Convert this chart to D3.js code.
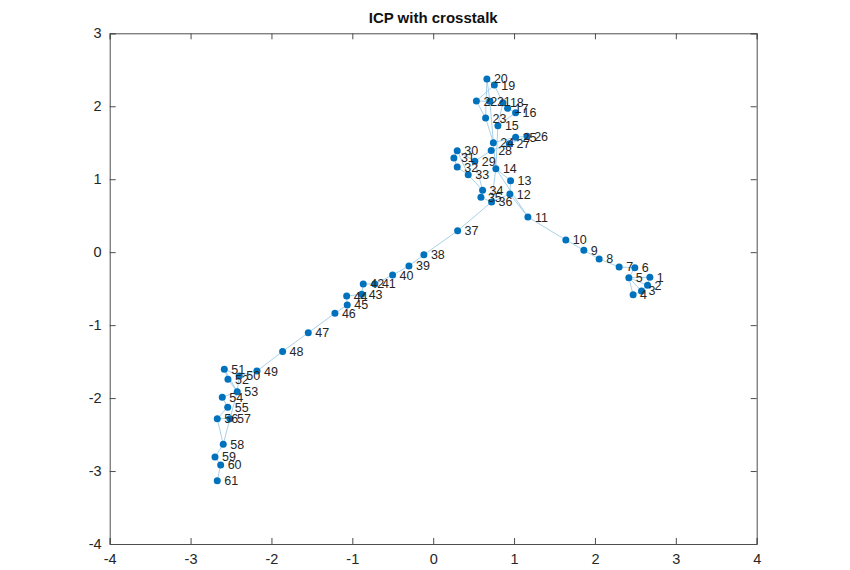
<!DOCTYPE html>
<html><head><meta charset="utf-8">
<script src="https://cdn.jsdelivr.net/npm/d3@7"></script>
<style>body{margin:0;background:#fff}svg{display:block}</style>
</head><body>
<svg id="c" width="850" height="570"></svg>
<script>
const labels = d3.range(1, 62);
const xs = [2.679,2.650,2.576,2.472,2.419,2.493,2.299,2.052,1.863,1.640,
 1.171,0.948,0.957,0.775,0.800,1.019,0.920,0.862,0.756,0.664,
 0.701,0.534,0.648,0.744,1.019,1.162,0.942,0.717,0.515,0.297,
 0.256,0.297,0.433,0.611,0.590,0.722,0.302,-0.115,-0.300,-0.502,
 -0.721,-0.865,-0.885,-1.070,-1.063,-1.215,-1.545,-1.862,-2.179,-2.398,
 -2.583,-2.538,-2.423,-2.608,-2.541,-2.670,-2.513,-2.596,-2.698,-2.628,-2.670];
const ys = [-0.344,-0.454,-0.532,-0.583,-0.350,-0.213,-0.203,-0.093,0.026,0.167,
 0.482,0.797,0.980,1.144,1.734,1.912,1.972,2.049,2.291,2.374,
 2.068,2.072,1.839,1.501,1.575,1.588,1.485,1.394,1.246,1.391,
 1.291,1.167,1.062,0.848,0.752,0.688,0.294,-0.035,-0.189,-0.313,
 -0.436,-0.436,-0.577,-0.601,-0.724,-0.838,-1.104,-1.361,-1.629,-1.697,
 -1.604,-1.742,-1.912,-1.989,-2.126,-2.282,-2.282,-2.633,-2.807,-2.917,-3.132];
// extra (crosstalk) edges, by point label
const extraEdges = [[5,1],[5,2],[5,3],[14,11],[14,36],[24,14],[20,23],[19,22],[21,24],[18,15],
 [30,33],[29,34],[12,36],[50,53],[53,57],[51,53],[56,58]];
const xTicks = [-4,-3,-2,-1,0,1,2,3,4];
const yTicks = [-4,-3,-2,-1,0,1,2,3];
const titleText = "ICP with crosstalk";

const svg = d3.select("#c");
const L = 109.7, R = 756.7, T = 33.3, B = 544;
const x = d3.scaleLinear().domain([-4, 4]).range([L, R]);
const y = d3.scaleLinear().domain([-4, 3]).range([B, T]);
const pts = labels.map((l, i) => ({l, x: xs[i], y: ys[i]}));
const font = "Liberation Sans, Arial, sans-serif";
const fmt = d => String(d);

// edges
const edges = [];
for (let i = 0; i < pts.length - 1; i++) edges.push([pts[i], pts[i+1]]);
extraEdges.forEach(([a, b]) => edges.push([pts[a-1], pts[b-1]]));
svg.append("g").selectAll("line").data(edges).join("line")
  .attr("x1", d => x(d[0].x)).attr("y1", d => y(d[0].y))
  .attr("x2", d => x(d[1].x)).attr("y2", d => y(d[1].y))
  .attr("stroke", "#9fcbe6").attr("stroke-width", 0.9);

// points
svg.append("g").selectAll("circle").data(pts).join("circle")
  .attr("cx", d => x(d.x)).attr("cy", d => y(d.y)).attr("r", 3.5)
  .attr("fill", "#0072BD");

// labels
svg.append("g").selectAll("text").data(pts).join("text")
  .attr("x", d => x(d.x) + 7).attr("y", d => y(d.y) + 4.5)
  .attr("font-family", font).attr("font-size", 12.5)
  .attr("fill", "#262626").text(d => d.l);

// axes
const fs = 14.5, ac = "#4d4d4d";
const gb = svg.append("g").attr("transform", `translate(0,${B})`)
  .call(d3.axisBottom(x).tickValues(xTicks).tickSize(-6).tickPadding(10).tickFormat(fmt));
const gt = svg.append("g").attr("transform", `translate(0,${T})`)
  .call(d3.axisTop(x).tickValues(xTicks).tickSize(-6).tickFormat(""));
const gl = svg.append("g").attr("transform", `translate(${L},0)`)
  .call(d3.axisLeft(y).tickValues(yTicks).tickSize(-6).tickPadding(8).tickFormat(fmt));
const gr = svg.append("g").attr("transform", `translate(${R},0)`)
  .call(d3.axisRight(y).tickValues(yTicks).tickSize(-6).tickFormat(""));
[gb, gt, gl, gr].forEach(g => {
  g.select(".domain").attr("stroke", ac).attr("stroke-width", 1);
  g.selectAll(".tick line").attr("stroke", ac);
  g.selectAll("text").attr("font-family", font)
    .attr("font-size", fs).attr("fill", "#262626");
});

svg.append("text").attr("x", (L + R) / 2).attr("y", 23).attr("text-anchor", "middle")
  .attr("font-family", font).attr("font-size", 15)
  .attr("font-weight", "bold").attr("fill", "#111").text(titleText);
</script>
</body></html>
